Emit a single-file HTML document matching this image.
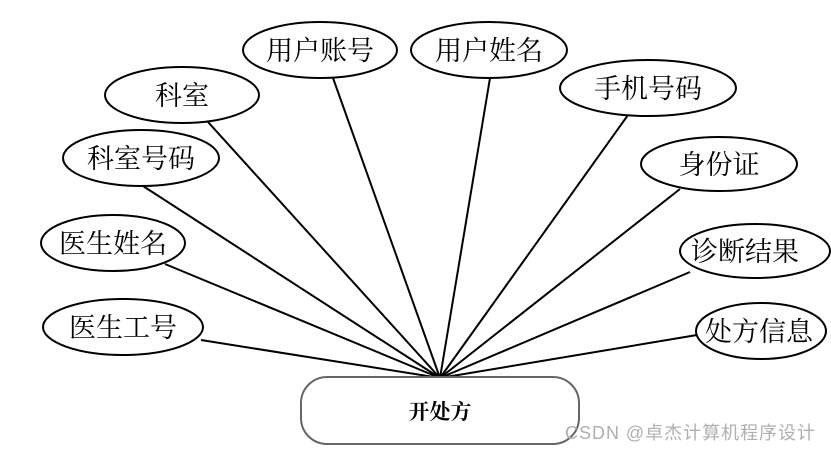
<!DOCTYPE html>
<html><head><meta charset="utf-8"><style>
html,body{margin:0;padding:0;background:#fff;}
svg text{font-family:"Liberation Serif","Noto Serif CJK SC","Noto Sans CJK SC",serif;}
</style></head><body>
<svg width="831" height="449" viewBox="0 0 831 449" xmlns="http://www.w3.org/2000/svg">
<g stroke="#000" stroke-width="2" fill="none">
<line x1="440" y1="378" x2="333" y2="78"/>
<line x1="440" y1="378" x2="490" y2="78"/>
<line x1="440" y1="378" x2="628" y2="115"/>
<line x1="440" y1="378" x2="208" y2="122"/>
<line x1="440" y1="378" x2="143" y2="186"/>
<line x1="440" y1="378" x2="680" y2="189"/>
<line x1="440" y1="378" x2="165" y2="264"/>
<line x1="440" y1="378" x2="690" y2="272"/>
<line x1="440" y1="378" x2="201" y2="340"/>
<line x1="440" y1="378" x2="697" y2="335"/>
</g>
<g stroke="#000" stroke-width="2" fill="#fff">
<ellipse cx="320" cy="50" rx="77" ry="28"/>
<ellipse cx="489" cy="50" rx="78" ry="28"/>
<ellipse cx="648" cy="88" rx="88" ry="28"/>
<ellipse cx="182" cy="95" rx="77" ry="28"/>
<ellipse cx="141" cy="158" rx="78" ry="28"/>
<ellipse cx="719" cy="164" rx="78" ry="27"/>
<ellipse cx="113" cy="243" rx="72" ry="28"/>
<ellipse cx="755" cy="251" rx="75" ry="27"/>
<ellipse cx="123" cy="327" rx="80" ry="28"/>
<ellipse cx="761" cy="331" rx="65" ry="28"/>
</g>
<rect x="301" y="377" width="278" height="67" rx="26" ry="26" fill="#fff" stroke="#666" stroke-width="2"/>
<g font-size="27" text-anchor="middle" fill="#000">
<text x="320" y="60">用户账号</text>
<text x="489" y="60">用户姓名</text>
<text x="648" y="98">手机号码</text>
<text x="182" y="105">科室</text>
<text x="141" y="168">科室号码</text>
<text x="719" y="174">身份证</text>
<text x="113" y="253">医生姓名</text>
<text x="745" y="261">诊断结果</text>
<text x="123" y="337">医生工号</text>
<text x="759" y="341">处方信息</text>
</g>
<text x="440" y="419" font-size="21" font-weight="bold" text-anchor="middle">开处方</text>
<text x="565" y="439" font-size="18" fill="#b0b0b0" textLength="250" style="font-family:'Liberation Sans','Noto Sans CJK SC',sans-serif">CSDN @卓杰计算机程序设计</text>
</svg>
</body></html>
